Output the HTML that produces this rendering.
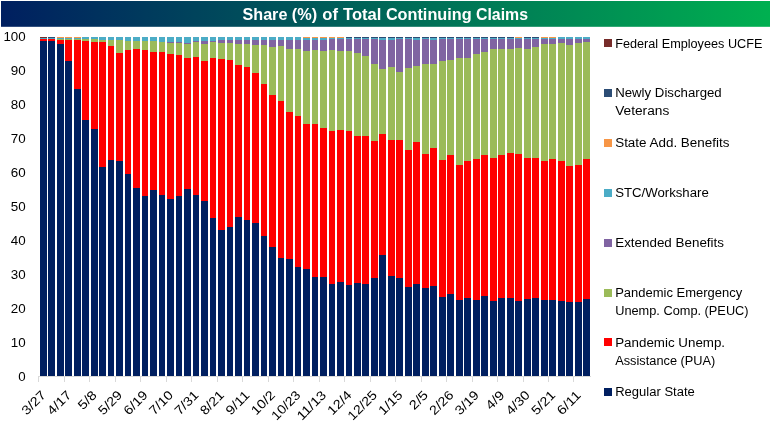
<!DOCTYPE html>
<html lang="en"><head><meta charset="utf-8"><title>Share (%) of Total Continuing Claims</title>
<style>html,body{margin:0;padding:0;background:#fff}svg{display:block}text{font-family:"Liberation Sans",Arial,sans-serif}</style></head><body>
<svg width="771" height="430" viewBox="0 0 771 430">
<defs><linearGradient id="tg" x1="0" y1="0" x2="1" y2="0"><stop offset="0" stop-color="#001f60"/><stop offset="1" stop-color="#00b050"/></linearGradient></defs>
<rect x="0" y="0" width="771" height="430" fill="#fff"/>
<rect x="1" y="1" width="769" height="25.8" fill="url(#tg)"/>
<text y="19.7" font-size="16.4" font-weight="bold" fill="#fff"><tspan x="242.5" textLength="44.9" lengthAdjust="spacingAndGlyphs">Share</tspan> <tspan x="291.8" textLength="25.4" lengthAdjust="spacingAndGlyphs">(%)</tspan> <tspan x="322.3" textLength="15.7" lengthAdjust="spacingAndGlyphs">of</tspan> <tspan x="343.1" textLength="38.3" lengthAdjust="spacingAndGlyphs">Total</tspan> <tspan x="385.9" textLength="85.7" lengthAdjust="spacingAndGlyphs">Continuing</tspan> <tspan x="476.0" textLength="52.0" lengthAdjust="spacingAndGlyphs">Claims</tspan></text>
<g id="bars" shape-rendering="crispEdges">
<rect x="40" y="37" width="7" height="1" fill="#772c2a"/>
<rect x="40" y="38" width="7" height="1" fill="#4bacc6"/>
<rect x="40" y="39" width="7" height="2" fill="#ff0000"/>
<rect x="40" y="41" width="7" height="335" fill="#001f60"/>
<rect x="48" y="37" width="7" height="1" fill="#2c4d75"/>
<rect x="48" y="38" width="7" height="1" fill="#4bacc6"/>
<rect x="48" y="39" width="7" height="2" fill="#ff0000"/>
<rect x="48" y="41" width="7" height="335" fill="#001f60"/>
<rect x="57" y="37" width="7" height="1" fill="#f79646"/>
<rect x="57" y="38" width="7" height="1" fill="#4bacc6"/>
<rect x="57" y="39" width="7" height="1" fill="#9bbb59"/>
<rect x="57" y="40" width="7" height="4" fill="#ff0000"/>
<rect x="57" y="44" width="7" height="332" fill="#001f60"/>
<rect x="65" y="37" width="7" height="1" fill="#f79646"/>
<rect x="65" y="38" width="7" height="1" fill="#4bacc6"/>
<rect x="65" y="39" width="7" height="1" fill="#9bbb59"/>
<rect x="65" y="40" width="7" height="21" fill="#ff0000"/>
<rect x="65" y="61" width="7" height="315" fill="#001f60"/>
<rect x="74" y="37" width="7" height="1" fill="#f79646"/>
<rect x="74" y="38" width="7" height="1" fill="#4bacc6"/>
<rect x="74" y="39" width="7" height="1" fill="#9bbb59"/>
<rect x="74" y="40" width="7" height="49" fill="#ff0000"/>
<rect x="74" y="89" width="7" height="287" fill="#001f60"/>
<rect x="82" y="37" width="7" height="2" fill="#4bacc6"/>
<rect x="82" y="39" width="7" height="2" fill="#9bbb59"/>
<rect x="82" y="41" width="7" height="79" fill="#ff0000"/>
<rect x="82" y="120" width="7" height="256" fill="#001f60"/>
<rect x="91" y="37" width="7" height="2" fill="#4bacc6"/>
<rect x="91" y="39" width="7" height="3" fill="#9bbb59"/>
<rect x="91" y="42" width="7" height="87" fill="#ff0000"/>
<rect x="91" y="129" width="7" height="247" fill="#001f60"/>
<rect x="99" y="37" width="7" height="3" fill="#4bacc6"/>
<rect x="99" y="40" width="7" height="2" fill="#9bbb59"/>
<rect x="99" y="42" width="7" height="125" fill="#ff0000"/>
<rect x="99" y="167" width="7" height="209" fill="#001f60"/>
<rect x="108" y="37" width="6" height="3" fill="#4bacc6"/>
<rect x="108" y="40" width="6" height="6" fill="#9bbb59"/>
<rect x="108" y="46" width="6" height="114" fill="#ff0000"/>
<rect x="108" y="160" width="6" height="216" fill="#001f60"/>
<rect x="116" y="37" width="7" height="3" fill="#4bacc6"/>
<rect x="116" y="40" width="7" height="13" fill="#9bbb59"/>
<rect x="116" y="53" width="7" height="108" fill="#ff0000"/>
<rect x="116" y="161" width="7" height="215" fill="#001f60"/>
<rect x="125" y="37" width="6" height="4" fill="#4bacc6"/>
<rect x="125" y="41" width="6" height="9" fill="#9bbb59"/>
<rect x="125" y="50" width="6" height="124" fill="#ff0000"/>
<rect x="125" y="174" width="6" height="202" fill="#001f60"/>
<rect x="133" y="37" width="7" height="4" fill="#4bacc6"/>
<rect x="133" y="41" width="7" height="8" fill="#9bbb59"/>
<rect x="133" y="49" width="7" height="139" fill="#ff0000"/>
<rect x="133" y="188" width="7" height="188" fill="#001f60"/>
<rect x="142" y="37" width="6" height="4" fill="#4bacc6"/>
<rect x="142" y="41" width="6" height="9" fill="#9bbb59"/>
<rect x="142" y="50" width="6" height="146" fill="#ff0000"/>
<rect x="142" y="196" width="6" height="180" fill="#001f60"/>
<rect x="150" y="37" width="7" height="4" fill="#4bacc6"/>
<rect x="150" y="41" width="7" height="11" fill="#9bbb59"/>
<rect x="150" y="52" width="7" height="138" fill="#ff0000"/>
<rect x="150" y="190" width="7" height="186" fill="#001f60"/>
<rect x="159" y="37" width="6" height="5" fill="#4bacc6"/>
<rect x="159" y="42" width="6" height="10" fill="#9bbb59"/>
<rect x="159" y="52" width="6" height="143" fill="#ff0000"/>
<rect x="159" y="195" width="6" height="181" fill="#001f60"/>
<rect x="167" y="37" width="7" height="5" fill="#4bacc6"/>
<rect x="167" y="42" width="7" height="1" fill="#8064a2"/>
<rect x="167" y="43" width="7" height="11" fill="#9bbb59"/>
<rect x="167" y="54" width="7" height="145" fill="#ff0000"/>
<rect x="167" y="199" width="7" height="177" fill="#001f60"/>
<rect x="176" y="37" width="6" height="5" fill="#4bacc6"/>
<rect x="176" y="42" width="6" height="1" fill="#8064a2"/>
<rect x="176" y="43" width="6" height="12" fill="#9bbb59"/>
<rect x="176" y="55" width="6" height="141" fill="#ff0000"/>
<rect x="176" y="196" width="6" height="180" fill="#001f60"/>
<rect x="184" y="37" width="7" height="6" fill="#4bacc6"/>
<rect x="184" y="43" width="7" height="1" fill="#8064a2"/>
<rect x="184" y="44" width="7" height="14" fill="#9bbb59"/>
<rect x="184" y="58" width="7" height="131" fill="#ff0000"/>
<rect x="184" y="189" width="7" height="187" fill="#001f60"/>
<rect x="193" y="37" width="6" height="4" fill="#4bacc6"/>
<rect x="193" y="41" width="6" height="1" fill="#8064a2"/>
<rect x="193" y="42" width="6" height="15" fill="#9bbb59"/>
<rect x="193" y="57" width="6" height="138" fill="#ff0000"/>
<rect x="193" y="195" width="6" height="181" fill="#001f60"/>
<rect x="201" y="37" width="7" height="4" fill="#4bacc6"/>
<rect x="201" y="41" width="7" height="3" fill="#8064a2"/>
<rect x="201" y="44" width="7" height="17" fill="#9bbb59"/>
<rect x="201" y="61" width="7" height="140" fill="#ff0000"/>
<rect x="201" y="201" width="7" height="175" fill="#001f60"/>
<rect x="210" y="37" width="6" height="4" fill="#4bacc6"/>
<rect x="210" y="41" width="6" height="1" fill="#8064a2"/>
<rect x="210" y="42" width="6" height="16" fill="#9bbb59"/>
<rect x="210" y="58" width="6" height="160" fill="#ff0000"/>
<rect x="210" y="218" width="6" height="158" fill="#001f60"/>
<rect x="218" y="37" width="7" height="3" fill="#4bacc6"/>
<rect x="218" y="40" width="7" height="3" fill="#8064a2"/>
<rect x="218" y="43" width="7" height="16" fill="#9bbb59"/>
<rect x="218" y="59" width="7" height="171" fill="#ff0000"/>
<rect x="218" y="230" width="7" height="146" fill="#001f60"/>
<rect x="227" y="37" width="6" height="3" fill="#4bacc6"/>
<rect x="227" y="40" width="6" height="3" fill="#8064a2"/>
<rect x="227" y="43" width="6" height="17" fill="#9bbb59"/>
<rect x="227" y="60" width="6" height="167" fill="#ff0000"/>
<rect x="227" y="227" width="6" height="149" fill="#001f60"/>
<rect x="235" y="37" width="7" height="3" fill="#4bacc6"/>
<rect x="235" y="40" width="7" height="4" fill="#8064a2"/>
<rect x="235" y="44" width="7" height="21" fill="#9bbb59"/>
<rect x="235" y="65" width="7" height="152" fill="#ff0000"/>
<rect x="235" y="217" width="7" height="159" fill="#001f60"/>
<rect x="244" y="37" width="6" height="3" fill="#4bacc6"/>
<rect x="244" y="40" width="6" height="4" fill="#8064a2"/>
<rect x="244" y="44" width="6" height="23" fill="#9bbb59"/>
<rect x="244" y="67" width="6" height="153" fill="#ff0000"/>
<rect x="244" y="220" width="6" height="156" fill="#001f60"/>
<rect x="252" y="37" width="7" height="3" fill="#4bacc6"/>
<rect x="252" y="40" width="7" height="5" fill="#8064a2"/>
<rect x="252" y="45" width="7" height="28" fill="#9bbb59"/>
<rect x="252" y="73" width="7" height="150" fill="#ff0000"/>
<rect x="252" y="223" width="7" height="153" fill="#001f60"/>
<rect x="261" y="37" width="6" height="3" fill="#4bacc6"/>
<rect x="261" y="40" width="6" height="5" fill="#8064a2"/>
<rect x="261" y="45" width="6" height="39" fill="#9bbb59"/>
<rect x="261" y="84" width="6" height="152" fill="#ff0000"/>
<rect x="261" y="236" width="6" height="140" fill="#001f60"/>
<rect x="269" y="37" width="7" height="3" fill="#4bacc6"/>
<rect x="269" y="40" width="7" height="7" fill="#8064a2"/>
<rect x="269" y="47" width="7" height="48" fill="#9bbb59"/>
<rect x="269" y="95" width="7" height="152" fill="#ff0000"/>
<rect x="269" y="247" width="7" height="129" fill="#001f60"/>
<rect x="278" y="37" width="6" height="3" fill="#4bacc6"/>
<rect x="278" y="40" width="6" height="6" fill="#8064a2"/>
<rect x="278" y="46" width="6" height="55" fill="#9bbb59"/>
<rect x="278" y="101" width="6" height="157" fill="#ff0000"/>
<rect x="278" y="258" width="6" height="118" fill="#001f60"/>
<rect x="286" y="37" width="7" height="3" fill="#4bacc6"/>
<rect x="286" y="40" width="7" height="9" fill="#8064a2"/>
<rect x="286" y="49" width="7" height="63" fill="#9bbb59"/>
<rect x="286" y="112" width="7" height="147" fill="#ff0000"/>
<rect x="286" y="259" width="7" height="117" fill="#001f60"/>
<rect x="295" y="37" width="6" height="3" fill="#4bacc6"/>
<rect x="295" y="40" width="6" height="9" fill="#8064a2"/>
<rect x="295" y="49" width="6" height="67" fill="#9bbb59"/>
<rect x="295" y="116" width="6" height="151" fill="#ff0000"/>
<rect x="295" y="267" width="6" height="109" fill="#001f60"/>
<rect x="303" y="37" width="7" height="1" fill="#f79646"/>
<rect x="303" y="38" width="7" height="2" fill="#4bacc6"/>
<rect x="303" y="40" width="7" height="11" fill="#8064a2"/>
<rect x="303" y="51" width="7" height="73" fill="#9bbb59"/>
<rect x="303" y="124" width="7" height="145" fill="#ff0000"/>
<rect x="303" y="269" width="7" height="107" fill="#001f60"/>
<rect x="312" y="37" width="6" height="1" fill="#f79646"/>
<rect x="312" y="38" width="6" height="2" fill="#4bacc6"/>
<rect x="312" y="40" width="6" height="10" fill="#8064a2"/>
<rect x="312" y="50" width="6" height="74" fill="#9bbb59"/>
<rect x="312" y="124" width="6" height="153" fill="#ff0000"/>
<rect x="312" y="277" width="6" height="99" fill="#001f60"/>
<rect x="320" y="37" width="7" height="1" fill="#f79646"/>
<rect x="320" y="38" width="7" height="2" fill="#4bacc6"/>
<rect x="320" y="40" width="7" height="11" fill="#8064a2"/>
<rect x="320" y="51" width="7" height="77" fill="#9bbb59"/>
<rect x="320" y="128" width="7" height="149" fill="#ff0000"/>
<rect x="320" y="277" width="7" height="99" fill="#001f60"/>
<rect x="329" y="37" width="6" height="1" fill="#f79646"/>
<rect x="329" y="38" width="6" height="1" fill="#4bacc6"/>
<rect x="329" y="39" width="6" height="11" fill="#8064a2"/>
<rect x="329" y="50" width="6" height="81" fill="#9bbb59"/>
<rect x="329" y="131" width="6" height="153" fill="#ff0000"/>
<rect x="329" y="284" width="6" height="92" fill="#001f60"/>
<rect x="337" y="37" width="7" height="1" fill="#f79646"/>
<rect x="337" y="38" width="7" height="1" fill="#4bacc6"/>
<rect x="337" y="39" width="7" height="12" fill="#8064a2"/>
<rect x="337" y="51" width="7" height="79" fill="#9bbb59"/>
<rect x="337" y="130" width="7" height="152" fill="#ff0000"/>
<rect x="337" y="282" width="7" height="94" fill="#001f60"/>
<rect x="346" y="37" width="6" height="1" fill="#2c4d75"/>
<rect x="346" y="38" width="6" height="1" fill="#4bacc6"/>
<rect x="346" y="39" width="6" height="12" fill="#8064a2"/>
<rect x="346" y="51" width="6" height="80" fill="#9bbb59"/>
<rect x="346" y="131" width="6" height="154" fill="#ff0000"/>
<rect x="346" y="285" width="6" height="91" fill="#001f60"/>
<rect x="354" y="37" width="7" height="1" fill="#2c4d75"/>
<rect x="354" y="38" width="7" height="1" fill="#4bacc6"/>
<rect x="354" y="39" width="7" height="14" fill="#8064a2"/>
<rect x="354" y="53" width="7" height="83" fill="#9bbb59"/>
<rect x="354" y="136" width="7" height="147" fill="#ff0000"/>
<rect x="354" y="283" width="7" height="93" fill="#001f60"/>
<rect x="362" y="37" width="7" height="1" fill="#2c4d75"/>
<rect x="362" y="38" width="7" height="1" fill="#4bacc6"/>
<rect x="362" y="39" width="7" height="17" fill="#8064a2"/>
<rect x="362" y="56" width="7" height="80" fill="#9bbb59"/>
<rect x="362" y="136" width="7" height="148" fill="#ff0000"/>
<rect x="362" y="284" width="7" height="92" fill="#001f60"/>
<rect x="371" y="37" width="7" height="1" fill="#2c4d75"/>
<rect x="371" y="38" width="7" height="1" fill="#4bacc6"/>
<rect x="371" y="39" width="7" height="25" fill="#8064a2"/>
<rect x="371" y="64" width="7" height="77" fill="#9bbb59"/>
<rect x="371" y="141" width="7" height="137" fill="#ff0000"/>
<rect x="371" y="278" width="7" height="98" fill="#001f60"/>
<rect x="379" y="37" width="7" height="1" fill="#2c4d75"/>
<rect x="379" y="38" width="7" height="2" fill="#4bacc6"/>
<rect x="379" y="40" width="7" height="29" fill="#8064a2"/>
<rect x="379" y="69" width="7" height="65" fill="#9bbb59"/>
<rect x="379" y="134" width="7" height="121" fill="#ff0000"/>
<rect x="379" y="255" width="7" height="121" fill="#001f60"/>
<rect x="388" y="37" width="7" height="1" fill="#2c4d75"/>
<rect x="388" y="38" width="7" height="2" fill="#4bacc6"/>
<rect x="388" y="40" width="7" height="27" fill="#8064a2"/>
<rect x="388" y="67" width="7" height="73" fill="#9bbb59"/>
<rect x="388" y="140" width="7" height="136" fill="#ff0000"/>
<rect x="388" y="276" width="7" height="100" fill="#001f60"/>
<rect x="396" y="37" width="7" height="1" fill="#2c4d75"/>
<rect x="396" y="38" width="7" height="1" fill="#4bacc6"/>
<rect x="396" y="39" width="7" height="33" fill="#8064a2"/>
<rect x="396" y="72" width="7" height="68" fill="#9bbb59"/>
<rect x="396" y="140" width="7" height="138" fill="#ff0000"/>
<rect x="396" y="278" width="7" height="98" fill="#001f60"/>
<rect x="405" y="37" width="7" height="1" fill="#2c4d75"/>
<rect x="405" y="38" width="7" height="1" fill="#4bacc6"/>
<rect x="405" y="39" width="7" height="29" fill="#8064a2"/>
<rect x="405" y="68" width="7" height="82" fill="#9bbb59"/>
<rect x="405" y="150" width="7" height="137" fill="#ff0000"/>
<rect x="405" y="287" width="7" height="89" fill="#001f60"/>
<rect x="413" y="37" width="7" height="1" fill="#2c4d75"/>
<rect x="413" y="38" width="7" height="2" fill="#4bacc6"/>
<rect x="413" y="40" width="7" height="26" fill="#8064a2"/>
<rect x="413" y="66" width="7" height="76" fill="#9bbb59"/>
<rect x="413" y="142" width="7" height="142" fill="#ff0000"/>
<rect x="413" y="284" width="7" height="92" fill="#001f60"/>
<rect x="422" y="37" width="7" height="1" fill="#2c4d75"/>
<rect x="422" y="38" width="7" height="1" fill="#4bacc6"/>
<rect x="422" y="39" width="7" height="25" fill="#8064a2"/>
<rect x="422" y="64" width="7" height="90" fill="#9bbb59"/>
<rect x="422" y="154" width="7" height="134" fill="#ff0000"/>
<rect x="422" y="288" width="7" height="88" fill="#001f60"/>
<rect x="430" y="37" width="7" height="1" fill="#2c4d75"/>
<rect x="430" y="38" width="7" height="2" fill="#4bacc6"/>
<rect x="430" y="40" width="7" height="24" fill="#8064a2"/>
<rect x="430" y="64" width="7" height="84" fill="#9bbb59"/>
<rect x="430" y="148" width="7" height="138" fill="#ff0000"/>
<rect x="430" y="286" width="7" height="90" fill="#001f60"/>
<rect x="439" y="37" width="7" height="1" fill="#2c4d75"/>
<rect x="439" y="38" width="7" height="1" fill="#4bacc6"/>
<rect x="439" y="39" width="7" height="22" fill="#8064a2"/>
<rect x="439" y="61" width="7" height="99" fill="#9bbb59"/>
<rect x="439" y="160" width="7" height="137" fill="#ff0000"/>
<rect x="439" y="297" width="7" height="79" fill="#001f60"/>
<rect x="447" y="37" width="7" height="1" fill="#2c4d75"/>
<rect x="447" y="38" width="7" height="1" fill="#4bacc6"/>
<rect x="447" y="39" width="7" height="21" fill="#8064a2"/>
<rect x="447" y="60" width="7" height="95" fill="#9bbb59"/>
<rect x="447" y="155" width="7" height="139" fill="#ff0000"/>
<rect x="447" y="294" width="7" height="82" fill="#001f60"/>
<rect x="456" y="37" width="7" height="1" fill="#2c4d75"/>
<rect x="456" y="38" width="7" height="1" fill="#4bacc6"/>
<rect x="456" y="39" width="7" height="19" fill="#8064a2"/>
<rect x="456" y="58" width="7" height="107" fill="#9bbb59"/>
<rect x="456" y="165" width="7" height="135" fill="#ff0000"/>
<rect x="456" y="300" width="7" height="76" fill="#001f60"/>
<rect x="464" y="37" width="7" height="1" fill="#2c4d75"/>
<rect x="464" y="38" width="7" height="1" fill="#4bacc6"/>
<rect x="464" y="39" width="7" height="19" fill="#8064a2"/>
<rect x="464" y="58" width="7" height="103" fill="#9bbb59"/>
<rect x="464" y="161" width="7" height="137" fill="#ff0000"/>
<rect x="464" y="298" width="7" height="78" fill="#001f60"/>
<rect x="473" y="37" width="7" height="1" fill="#2c4d75"/>
<rect x="473" y="38" width="7" height="1" fill="#4bacc6"/>
<rect x="473" y="39" width="7" height="15" fill="#8064a2"/>
<rect x="473" y="54" width="7" height="105" fill="#9bbb59"/>
<rect x="473" y="159" width="7" height="141" fill="#ff0000"/>
<rect x="473" y="300" width="7" height="76" fill="#001f60"/>
<rect x="481" y="37" width="7" height="1" fill="#2c4d75"/>
<rect x="481" y="38" width="7" height="1" fill="#4bacc6"/>
<rect x="481" y="39" width="7" height="13" fill="#8064a2"/>
<rect x="481" y="52" width="7" height="103" fill="#9bbb59"/>
<rect x="481" y="155" width="7" height="141" fill="#ff0000"/>
<rect x="481" y="296" width="7" height="80" fill="#001f60"/>
<rect x="490" y="37" width="7" height="1" fill="#2c4d75"/>
<rect x="490" y="38" width="7" height="1" fill="#4bacc6"/>
<rect x="490" y="39" width="7" height="10" fill="#8064a2"/>
<rect x="490" y="49" width="7" height="109" fill="#9bbb59"/>
<rect x="490" y="158" width="7" height="143" fill="#ff0000"/>
<rect x="490" y="301" width="7" height="75" fill="#001f60"/>
<rect x="498" y="37" width="7" height="1" fill="#2c4d75"/>
<rect x="498" y="38" width="7" height="1" fill="#4bacc6"/>
<rect x="498" y="39" width="7" height="10" fill="#8064a2"/>
<rect x="498" y="49" width="7" height="106" fill="#9bbb59"/>
<rect x="498" y="155" width="7" height="143" fill="#ff0000"/>
<rect x="498" y="298" width="7" height="78" fill="#001f60"/>
<rect x="507" y="37" width="7" height="1" fill="#2c4d75"/>
<rect x="507" y="38" width="7" height="1" fill="#4bacc6"/>
<rect x="507" y="39" width="7" height="10" fill="#8064a2"/>
<rect x="507" y="49" width="7" height="104" fill="#9bbb59"/>
<rect x="507" y="153" width="7" height="145" fill="#ff0000"/>
<rect x="507" y="298" width="7" height="78" fill="#001f60"/>
<rect x="515" y="37" width="7" height="1" fill="#f79646"/>
<rect x="515" y="38" width="7" height="1" fill="#4bacc6"/>
<rect x="515" y="39" width="7" height="9" fill="#8064a2"/>
<rect x="515" y="48" width="7" height="106" fill="#9bbb59"/>
<rect x="515" y="154" width="7" height="147" fill="#ff0000"/>
<rect x="515" y="301" width="7" height="75" fill="#001f60"/>
<rect x="524" y="37" width="7" height="1" fill="#2c4d75"/>
<rect x="524" y="38" width="7" height="1" fill="#4bacc6"/>
<rect x="524" y="39" width="7" height="10" fill="#8064a2"/>
<rect x="524" y="49" width="7" height="109" fill="#9bbb59"/>
<rect x="524" y="158" width="7" height="141" fill="#ff0000"/>
<rect x="524" y="299" width="7" height="77" fill="#001f60"/>
<rect x="532" y="37" width="7" height="1" fill="#2c4d75"/>
<rect x="532" y="38" width="7" height="1" fill="#4bacc6"/>
<rect x="532" y="39" width="7" height="8" fill="#8064a2"/>
<rect x="532" y="47" width="7" height="111" fill="#9bbb59"/>
<rect x="532" y="158" width="7" height="140" fill="#ff0000"/>
<rect x="532" y="298" width="7" height="78" fill="#001f60"/>
<rect x="541" y="37" width="7" height="1" fill="#f79646"/>
<rect x="541" y="38" width="7" height="1" fill="#4bacc6"/>
<rect x="541" y="39" width="7" height="5" fill="#8064a2"/>
<rect x="541" y="44" width="7" height="117" fill="#9bbb59"/>
<rect x="541" y="161" width="7" height="139" fill="#ff0000"/>
<rect x="541" y="300" width="7" height="76" fill="#001f60"/>
<rect x="549" y="37" width="7" height="1" fill="#f79646"/>
<rect x="549" y="38" width="7" height="1" fill="#4bacc6"/>
<rect x="549" y="39" width="7" height="5" fill="#8064a2"/>
<rect x="549" y="44" width="7" height="115" fill="#9bbb59"/>
<rect x="549" y="159" width="7" height="141" fill="#ff0000"/>
<rect x="549" y="300" width="7" height="76" fill="#001f60"/>
<rect x="558" y="37" width="7" height="2" fill="#4bacc6"/>
<rect x="558" y="39" width="7" height="4" fill="#8064a2"/>
<rect x="558" y="43" width="7" height="118" fill="#9bbb59"/>
<rect x="558" y="161" width="7" height="140" fill="#ff0000"/>
<rect x="558" y="301" width="7" height="75" fill="#001f60"/>
<rect x="566" y="37" width="7" height="2" fill="#4bacc6"/>
<rect x="566" y="39" width="7" height="6" fill="#8064a2"/>
<rect x="566" y="45" width="7" height="121" fill="#9bbb59"/>
<rect x="566" y="166" width="7" height="136" fill="#ff0000"/>
<rect x="566" y="302" width="7" height="74" fill="#001f60"/>
<rect x="575" y="37" width="7" height="2" fill="#4bacc6"/>
<rect x="575" y="39" width="7" height="4" fill="#8064a2"/>
<rect x="575" y="43" width="7" height="122" fill="#9bbb59"/>
<rect x="575" y="165" width="7" height="137" fill="#ff0000"/>
<rect x="575" y="302" width="7" height="74" fill="#001f60"/>
<rect x="583" y="37" width="7" height="2" fill="#4bacc6"/>
<rect x="583" y="39" width="7" height="3" fill="#8064a2"/>
<rect x="583" y="42" width="7" height="117" fill="#9bbb59"/>
<rect x="583" y="159" width="7" height="140" fill="#ff0000"/>
<rect x="583" y="299" width="7" height="77" fill="#001f60"/>
</g>
<g fill="#d9d9d9" shape-rendering="crispEdges"><rect x="38" y="376" width="553" height="1"/>
<rect x="38" y="376" width="1" height="6"/>
<rect x="64" y="376" width="1" height="6"/>
<rect x="89" y="376" width="1" height="6"/>
<rect x="115" y="376" width="1" height="6"/>
<rect x="140" y="376" width="1" height="6"/>
<rect x="166" y="376" width="1" height="6"/>
<rect x="191" y="376" width="1" height="6"/>
<rect x="217" y="376" width="1" height="6"/>
<rect x="242" y="376" width="1" height="6"/>
<rect x="268" y="376" width="1" height="6"/>
<rect x="293" y="376" width="1" height="6"/>
<rect x="319" y="376" width="1" height="6"/>
<rect x="344" y="376" width="1" height="6"/>
<rect x="370" y="376" width="1" height="6"/>
<rect x="395" y="376" width="1" height="6"/>
<rect x="421" y="376" width="1" height="6"/>
<rect x="446" y="376" width="1" height="6"/>
<rect x="472" y="376" width="1" height="6"/>
<rect x="497" y="376" width="1" height="6"/>
<rect x="523" y="376" width="1" height="6"/>
<rect x="548" y="376" width="1" height="6"/>
<rect x="573" y="376" width="1" height="6"/>
</g>
<g font-size="12.8" fill="#000" text-anchor="end">
<text x="25.7" y="41" textLength="22.3" lengthAdjust="spacingAndGlyphs">100</text>
<text x="25.7" y="75" textLength="14.9" lengthAdjust="spacingAndGlyphs">90</text>
<text x="25.7" y="109" textLength="14.9" lengthAdjust="spacingAndGlyphs">80</text>
<text x="25.7" y="143" textLength="14.9" lengthAdjust="spacingAndGlyphs">70</text>
<text x="25.7" y="177" textLength="14.9" lengthAdjust="spacingAndGlyphs">60</text>
<text x="25.7" y="211" textLength="14.9" lengthAdjust="spacingAndGlyphs">50</text>
<text x="25.7" y="245" textLength="14.9" lengthAdjust="spacingAndGlyphs">40</text>
<text x="25.7" y="279" textLength="14.9" lengthAdjust="spacingAndGlyphs">30</text>
<text x="25.7" y="313" textLength="14.9" lengthAdjust="spacingAndGlyphs">20</text>
<text x="25.7" y="347" textLength="14.9" lengthAdjust="spacingAndGlyphs">10</text>
<text x="25.7" y="381" textLength="7.4" lengthAdjust="spacingAndGlyphs">0</text>
</g>
<g font-size="12.8" fill="#000" text-anchor="end">
<text transform="translate(46.60 395.9) rotate(-45)" textLength="28.0" lengthAdjust="spacingAndGlyphs">3/27</text>
<text transform="translate(72.08 395.9) rotate(-45)" textLength="28.0" lengthAdjust="spacingAndGlyphs">4/17</text>
<text transform="translate(97.56 395.9) rotate(-45)" textLength="20.5" lengthAdjust="spacingAndGlyphs">5/8</text>
<text transform="translate(123.04 395.9) rotate(-45)" textLength="28.0" lengthAdjust="spacingAndGlyphs">5/29</text>
<text transform="translate(148.53 395.9) rotate(-45)" textLength="28.0" lengthAdjust="spacingAndGlyphs">6/19</text>
<text transform="translate(174.01 395.9) rotate(-45)" textLength="28.0" lengthAdjust="spacingAndGlyphs">7/10</text>
<text transform="translate(199.49 395.9) rotate(-45)" textLength="28.0" lengthAdjust="spacingAndGlyphs">7/31</text>
<text transform="translate(224.97 395.9) rotate(-45)" textLength="28.0" lengthAdjust="spacingAndGlyphs">8/21</text>
<text transform="translate(250.45 395.9) rotate(-45)" textLength="28.0" lengthAdjust="spacingAndGlyphs">9/11</text>
<text transform="translate(275.94 395.9) rotate(-45)" textLength="28.0" lengthAdjust="spacingAndGlyphs">10/2</text>
<text transform="translate(301.42 395.9) rotate(-45)" textLength="35.4" lengthAdjust="spacingAndGlyphs">10/23</text>
<text transform="translate(326.90 395.9) rotate(-45)" textLength="35.4" lengthAdjust="spacingAndGlyphs">11/13</text>
<text transform="translate(352.38 395.9) rotate(-45)" textLength="28.0" lengthAdjust="spacingAndGlyphs">12/4</text>
<text transform="translate(377.86 395.9) rotate(-45)" textLength="35.4" lengthAdjust="spacingAndGlyphs">12/25</text>
<text transform="translate(403.35 395.9) rotate(-45)" textLength="28.0" lengthAdjust="spacingAndGlyphs">1/15</text>
<text transform="translate(428.83 395.9) rotate(-45)" textLength="20.5" lengthAdjust="spacingAndGlyphs">2/5</text>
<text transform="translate(454.31 395.9) rotate(-45)" textLength="28.0" lengthAdjust="spacingAndGlyphs">2/26</text>
<text transform="translate(479.79 395.9) rotate(-45)" textLength="28.0" lengthAdjust="spacingAndGlyphs">3/19</text>
<text transform="translate(505.27 395.9) rotate(-45)" textLength="20.5" lengthAdjust="spacingAndGlyphs">4/9</text>
<text transform="translate(530.75 395.9) rotate(-45)" textLength="28.0" lengthAdjust="spacingAndGlyphs">4/30</text>
<text transform="translate(556.24 395.9) rotate(-45)" textLength="28.0" lengthAdjust="spacingAndGlyphs">5/21</text>
<text transform="translate(581.72 395.9) rotate(-45)" textLength="28.0" lengthAdjust="spacingAndGlyphs">6/11</text>
</g>
<g font-size="12" fill="#000">
<rect x="604" y="39" width="8" height="8" fill="#772c2a"/>
<text x="615.2" y="47.7" textLength="147.2" lengthAdjust="spacingAndGlyphs">Federal Employees UCFE</text>
<rect x="604" y="89" width="8" height="8" fill="#2c4d75"/>
<text x="615.2" y="96.5" textLength="106.5" lengthAdjust="spacingAndGlyphs">Newly Discharged</text>
<text x="615.2" y="114.6" textLength="54.1" lengthAdjust="spacingAndGlyphs">Veterans</text>
<rect x="604" y="139" width="8" height="8" fill="#f79646"/>
<text x="615.2" y="146.65" textLength="114.2" lengthAdjust="spacingAndGlyphs">State Add. Benefits</text>
<rect x="604" y="189" width="8" height="8" fill="#4bacc6"/>
<text x="615.2" y="196.7" textLength="93.6" lengthAdjust="spacingAndGlyphs">STC/Workshare</text>
<rect x="604" y="239" width="8" height="8" fill="#8064a2"/>
<text x="615.2" y="246.7" textLength="108.8" lengthAdjust="spacingAndGlyphs">Extended Benefits</text>
<rect x="604" y="289" width="8" height="8" fill="#9bbb59"/>
<text x="615.2" y="296.65" textLength="127.0" lengthAdjust="spacingAndGlyphs">Pandemic Emergency</text>
<text x="615.2" y="314.7" textLength="133.4" lengthAdjust="spacingAndGlyphs">Unemp. Comp. (PEUC)</text>
<rect x="604" y="338" width="8" height="8" fill="#ff0000"/>
<text x="615.2" y="346.65" textLength="109.9" lengthAdjust="spacingAndGlyphs">Pandemic Unemp.</text>
<text x="615.2" y="364.7" textLength="100.2" lengthAdjust="spacingAndGlyphs">Assistance (PUA)</text>
<rect x="604" y="388" width="8" height="8" fill="#001f60"/>
<text x="615.2" y="395.6" textLength="79.6" lengthAdjust="spacingAndGlyphs">Regular State</text>
</g>
</svg></body></html>
